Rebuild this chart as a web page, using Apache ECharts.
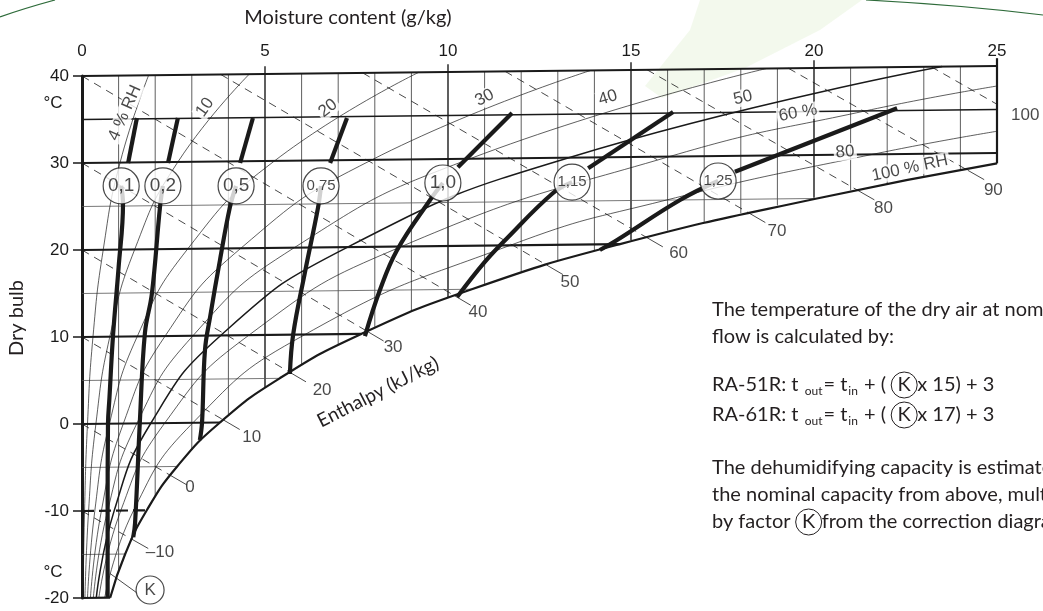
<!DOCTYPE html>
<html>
<head>
<meta charset="utf-8">
<script src="https://cdn.jsdelivr.net/npm/echarts/dist/echarts.min.js"></script>
<style>
html, body { margin: 0; padding: 0; background: #fff; }
#chart { width: 1043px; height: 611px; }
</style>
</head>
<body>
<div id="chart"></div>
<script>
// ---- data ----
const SKEW = 0.046; // isotherms rise a little with moisture content (Mollier chart)

// saturation curve (100 % RH): dry bulb °C -> moisture g/kg
const satT = [-20, -15, -10, -5, 0, 5, 10, 15, 20, 25, 28.8];
const satX = [0.77, 1.18, 1.77, 2.60, 3.77, 5.40, 7.63, 10.65, 14.70, 20.08, 25.0];

// vertical moisture lines and where they meet the saturation curve
const gridX = [1, 2, 3, 4, 5, 6, 7, 8, 9, 10, 11, 12, 13, 14, 15, 16, 17, 18, 19, 20, 21, 22, 23, 24, 25];
const gridBottomT = [-16.9, -8.4, -3.1, 0.8, 3.95, 6.5, 8.8, 10.8, 12.5, 14.1, 15.6, 16.95, 18.2,
  19.35, 20.45, 21.5, 22.45, 23.4, 24.25, 25.1, 25.9, 26.65, 27.4, 28.1, 28.8];

// isotherms and their right end
const isoT = [-20, -15, -10, -5, 0, 5, 10, 15, 20, 25, 30, 35, 40];
const isoEndX = [0.77, 1.18, 1.77, 2.60, 3.77, 5.40, 7.63, 10.65, 14.70, 20.08, 25, 25, 25];

// relative humidity curves [g/kg, °C]
const rh04 = [[0.03, -20], [0.07, -10], [0.15, 0], [0.30, 10], [0.58, 20], [1.04, 30], [1.82, 40]];
const rh10 = [[0.08, -20], [0.18, -10], [0.38, 0], [0.76, 10], [1.44, 20], [2.62, 30], [4.57, 40]];
const rh20 = [[0.15, -20], [0.35, -10], [0.75, 0], [1.51, 10], [2.89, 20], [5.26, 30], [9.2, 40]];
const rh30 = [[0.23, -20], [0.53, -10], [1.13, 0], [2.27, 10], [4.34, 20], [7.92, 30], [13.9, 40]];
const rh40 = [[0.31, -20], [0.70, -10], [1.50, 0], [3.03, 10], [5.80, 20], [10.6, 30], [18.7, 40]];
const rh50 = [[0.39, -20], [0.88, -10], [1.88, 0], [3.79, 10], [7.26, 20], [13.3, 30], [23.5, 40]];
const rh60 = [[0.46, -20], [1.06, -10], [2.26, 0], [4.56, 10], [8.73, 20], [16.05, 30], [21.4, 35], [25, 37.7]];
const rh80 = [[0.62, -20], [1.41, -10], [3.03, 0], [6.09, 10], [11.7, 20], [15.96, 25], [21.6, 30], [25, 32.5]];
const rhText = ['4 % RH', '10', '20', '30', '40', '50', '60 %', '80', '100 % RH'];
const rhLabelPos = [[1.17, 35.75], [3.36, 36.4], [6.72, 36.3], [11.0, 37.5], [14.37, 37.5],
  [18.06, 37.5], [19.56, 35.75], [20.85, 31.26], [22.62, 29.4]];
const rhLabelRot = [66, 55, 38, 28, 17, 13, 10, 5, 12];

// enthalpy lines (kJ/kg): start and end on the saturation curve [g/kg, °C]
const enthH = [-10, 0, 10, 20, 30, 40, 50, 60, 70, 80, 90, 100];
const enthStart = [[0, -10], [0, 0], [0, 10], [0, 20], [0, 30], [0, 40], [3.79, 40], [7.67, 40],
  [11.56, 40], [15.44, 40], [19.3, 40], [23.2, 40]];
const enthEnd = [[1.36, -13.3], [2.41, -6.0], [3.86, 0.3], [5.67, 5.7], [7.79, 10.3], [10.17, 14.3],
  [12.69, 17.7], [15.42, 20.75], [18.22, 23.42], [21.2, 25.87], [24.2, 28.05], [25, 35.6]];
const enthText = ['–10', '0', '10', '20', '30', '40', '50', '60', '70', '80', '90', '100'];
const enthLabelPos = [[2.13, -14.7], [2.95, -7.24], [4.64, -1.5], [6.56, 3.9], [8.5, 8.85], [10.82, 12.8],
  [13.33, 16.3], [16.3, 19.65], [18.99, 22.2], [21.9, 24.8], [24.9, 26.9], [25.77, 35.5]];

// correction factor K curves (plotted positions)
const kFactors = ['0,1', '0,2', '0,5', '0,75', '1,0', '1,15', '1,25'];
const kCircle = [[1.07, 27.36], [2.21, 27.36], [4.21, 27.36], [6.53, 27.36], [9.86, 27.7], [13.39, 27.8], [17.38, 27.93]];
const kUpper = [
  [[1.50, 35.17], [1.26, 30.0]],
  [[2.62, 35.17], [2.35, 30.0]],
  [[4.67, 35.17], [4.32, 30.0]],
  [[7.24, 35.17], [6.78, 30.0]],
  [[11.75, 35.75], [10.27, 29.5]],
  [[16.15, 35.86], [13.83, 29.4]],
  [[22.27, 36.3], [17.84, 29.0]]
];
const kLower = [
  [[1.07, 27.36], [1.12, 25.3], [1.0, 18], [0.85, 10.3], [0.75, 3], [0.71, 0], [0.70, -10], [0.70, -20]],
  [[2.21, 27.36], [2.13, 24.9], [1.91, 15], [1.72, 10.5], [1.58, 0.2], [1.45, -11.4], [1.40, -13.0]],
  [[4.21, 27.36], [4.04, 24.9], [3.77, 18.85], [3.5, 12.3], [3.36, 8.5], [3.28, 0.2], [3.22, -1.84]],
  [[6.53, 27.36], [6.45, 24.9], [6.09, 17.4], [5.77, 10.3], [5.68, 5.75]],
  [[9.86, 27.7], [9.51, 25.75], [8.61, 20], [8.14, 15.4], [7.73, 10.1]],
  [[13.39, 27.8], [12.87, 26.55], [11.6, 21.3], [11.0, 18.6], [10.25, 14.6]],
  [[17.38, 27.93], [16.34, 25.75], [14.62, 21.15], [14.15, 20]]
];
const kMarker = [1.86, -19.08];
const kLeader = [[0.77, -17.2], [1.53, -19.5]];

// ---- build ----
const INK = '#1a1a1a';
const TEXT = '#231f20';
const pt = (x, t) => [x, t + SKEW * x];
const series = [];

function addLine(data, width, type, extra) {
  series.push(Object.assign({
    type: 'line', data: data, symbol: 'none', silent: true, clip: false, animation: false, z: 2,
    lineStyle: { color: INK, width: width, type: type || 'solid' }
  }, extra || {}));
}

// moisture lines (multiples of 5 poke above the top edge as ticks)
gridX.forEach((x, i) => {
  const top = x % 5 === 0 ? 40.9 : 40;
  const w = x === 25 ? 2.2 : (x % 5 === 0 ? 1.4 : 0.7);
  addLine([pt(x, gridBottomT[i]), pt(x, top)], w);
});

// isotherms
isoT.forEach((t, i) => {
  let w = 0.8, type = 'solid', color = '#555';
  if (t % 10 === 0) { w = 2.2; color = INK; }
  if (t === 35) { w = 1.5; color = INK; }
  if (t === -10) type = [12, 5];
  addLine([pt(0, t), pt(isoEndX[i], t)], w, type, { lineStyle: { color: color, width: w, type: type } });
});

// enthalpy lines
enthH.forEach((h, i) => {
  const s = pt(enthStart[i][0], enthStart[i][1]);
  const e = pt(enthEnd[i][0], enthEnd[i][1]);
  const k = 0.45 / (e[0] - s[0]);
  const ext = [e[0] + (e[0] - s[0]) * k, e[1] + (e[1] - s[1]) * k];
  addLine([s, e], 0.8, [8, 6]);
  addLine([e, ext], 0.8);
});

// RH curves
[rh04, rh10, rh20, rh30, rh40, rh50, rh60, rh80].forEach((c, i) => {
  addLine(c.map(p => pt(p[0], p[1])), i === 5 ? 1.5 : 0.7, 'solid', { smooth: true });
});
addLine(satT.map((t, i) => pt(satX[i], t)), 2.2, 'solid', { smooth: true });

// K curves
kFactors.forEach((f, i) => {
  addLine(kUpper[i], 4.2);
  addLine(kLower[i], 4.2, 'solid', { smooth: 0.4 });
});
addLine(kLeader, 0.8);

// labels
series.push({
  type: 'scatter', silent: true, clip: false, animation: false, z: 6,
  symbolSize: 1, itemStyle: { color: 'rgba(0,0,0,0)' },
  label: { show: true, position: 'inside', fontSize: 17, color: INK, fontFamily: 'Liberation Sans' },
  data: enthLabelPos.map((p, i) => ({ value: p, label: { formatter: enthText[i] } }))
});
series.push({
  type: 'scatter', silent: true, clip: false, animation: false, z: 6,
  symbolSize: 1, itemStyle: { color: 'rgba(0,0,0,0)' },
  label: { show: true, position: 'inside', fontSize: 17, color: INK, fontFamily: 'Liberation Sans',
    backgroundColor: '#fff', padding: [0, 2] },
  data: rhLabelPos.map((p, i) => ({ value: p, label: { formatter: rhText[i], rotate: rhLabelRot[i] } }))
});
series.push({
  type: 'scatter', silent: true, clip: false, animation: false, z: 8,
  symbol: 'circle', symbolSize: 36,
  itemStyle: { color: '#fff', borderColor: INK, borderWidth: 1.2 },
  label: { show: true, position: 'inside', color: INK, fontFamily: 'Liberation Sans' },
  data: kCircle.map((p, i) => ({
    value: p,
    label: { formatter: kFactors[i], fontSize: kFactors[i].length > 3 ? 15 : 19 }
  })).concat([{ value: kMarker, symbolSize: 28, label: { formatter: 'K', fontSize: 17 } }])
});

const font = '20px Lato';
const kStyle = { fontSize: 20, fontFamily: 'Lato', width: 26, height: 26, align: 'center', borderColor: TEXT, borderWidth: 1, borderRadius: 14 };
const subStyle = { fontSize: 12, fontFamily: 'Lato', padding: [13, 1, 0, 1] };
const chart = echarts.init(document.getElementById('chart'));
chart.setOption({
  animation: false,
  grid: { left: 82, right: 46, top: 76, bottom: 13 },
  xAxis: {
    type: 'value', position: 'top', min: 0, max: 25, interval: 5,
    axisLine: { show: false }, axisTick: { show: false }, splitLine: { show: false },
    axisLabel: { fontSize: 17, margin: 16, color: INK, fontFamily: 'Liberation Sans' }
  },
  yAxis: {
    type: 'value', min: -20, max: 40, interval: 10,
    axisLine: { show: true, lineStyle: { color: INK, width: 3 } },
    axisTick: { show: true, length: 9, lineStyle: { color: INK, width: 1.5 } },
    splitLine: { show: false },
    axisLabel: { fontSize: 17, margin: 13, color: INK, fontFamily: 'Liberation Sans' }
  },
  graphic: [
    { type: 'polygon', z: -1, shape: { points: [[700, 0], [862, 0], [820, 30], [745, 68], [662, 98], [645, 86], [690, 30]] },
      style: { fill: 'rgba(215,235,195,0.3)' } },
    { type: 'bezierCurve', shape: { x1: 0, y1: 17, x2: 55, y2: 0, cpx1: 22, cpy1: 9 },
      style: { stroke: '#2e6b3a', lineWidth: 1.2, fill: 'none' } },
    { type: 'bezierCurve', shape: { x1: 866, y1: 0, x2: 1043, y2: 15, cpx1: 960, cpy1: 5 },
      style: { stroke: '#2e6b3a', lineWidth: 1.2, fill: 'none' } },
    { type: 'text', x: 348, y: 18, style: { text: 'Moisture content (g/kg)', font: font, fill: TEXT, align: 'center', verticalAlign: 'middle', textAlign: 'center', textVerticalAlign: 'middle' } },
    { type: 'text', x: 17, y: 318, rotation: Math.PI / 2, style: { text: 'Dry bulb', font: font, fill: TEXT, align: 'center', verticalAlign: 'middle', textAlign: 'center', textVerticalAlign: 'middle' } },
    { type: 'text', x: 53, y: 103, style: { text: '°C', font: '17px "Liberation Sans"', fill: INK, align: 'center', verticalAlign: 'middle', textAlign: 'center', textVerticalAlign: 'middle' } },
    { type: 'text', x: 53, y: 572, style: { text: '°C', font: '17px "Liberation Sans"', fill: INK, align: 'center', verticalAlign: 'middle', textAlign: 'center', textVerticalAlign: 'middle' } },
    { type: 'text', x: 378, y: 392, rotation: 27 * Math.PI / 180, style: { text: 'Enthalpy (kJ/kg)', font: '19px Lato', fill: TEXT, align: 'center', verticalAlign: 'middle', textAlign: 'center', textVerticalAlign: 'middle' } },
    { type: 'text', x: 712, y: 310, style: { text: 'The temperature of the dry air at nominal air', font: font, fill: TEXT, verticalAlign: 'middle', textVerticalAlign: 'middle' } },
    { type: 'text', x: 712, y: 337, style: { text: 'flow is calculated by:', font: font, fill: TEXT, verticalAlign: 'middle', textVerticalAlign: 'middle' } },
    { type: 'text', x: 712, y: 385, style: { text: 'RA-51R: t {sub|out}= t{sub|in} + ( {k|K}x 15) + 3', font: font, fill: TEXT, verticalAlign: 'middle', textVerticalAlign: 'middle',
      rich: { sub: subStyle, k: kStyle } } },
    { type: 'text', x: 712, y: 415, style: { text: 'RA-61R: t {sub|out}= t{sub|in} + ( {k|K}x 17) + 3', font: font, fill: TEXT, verticalAlign: 'middle', textVerticalAlign: 'middle',
      rich: { sub: subStyle, k: kStyle } } },
    { type: 'text', x: 712, y: 468, style: { text: 'The dehumidifying capacity is estimated from', font: font, fill: TEXT, verticalAlign: 'middle', textVerticalAlign: 'middle' } },
    { type: 'text', x: 712, y: 495, style: { text: 'the nominal capacity from above, multiplied', font: font, fill: TEXT, verticalAlign: 'middle', textVerticalAlign: 'middle' } },
    { type: 'text', x: 712, y: 522, style: { text: 'by factor {k|K}from the correction diagram.', font: font, fill: TEXT, verticalAlign: 'middle', textVerticalAlign: 'middle',
      rich: { k: kStyle } } }
  ],
  series: series
});
</script>
</body>
</html>
